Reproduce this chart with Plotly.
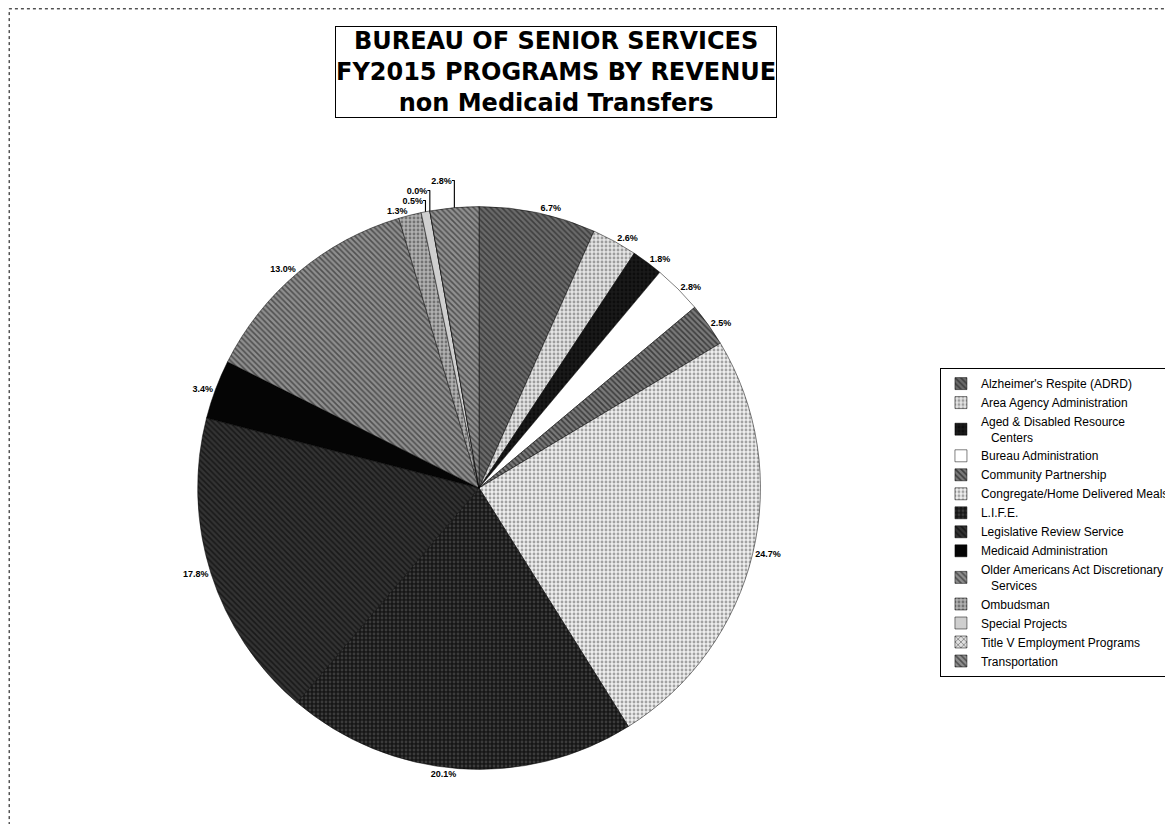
import plotly.graph_objects as go

programs = [
    "Alzheimer's Respite (ADRD)",
    "Area Agency Administration",
    "Aged & Disabled Resource<br>   Centers",
    "Bureau Administration",
    "Community Partnership",
    "Congregate/Home Delivered Meals",
    "L.I.F.E.",
    "Legislative Review Service",
    "Medicaid Administration",
    "Older Americans Act Discretionary<br>   Services",
    "Ombudsman",
    "Special Projects",
    "Title V Employment Programs",
    "Transportation",
]
revenue_pct = [6.7, 2.6, 1.8, 2.8, 2.5, 24.7, 20.1, 17.8, 3.4, 13.0, 1.3, 0.5, 0.0, 2.8]

fill_colors = ["#6a6a6a", "#e4e4e4", "#1a1a1a", "#ffffff", "#7a7a7a", "#eeeeee", "#161616",
               "#333333", "#050505", "#8e8e8e", "#b0b0b0", "#cfcfcf", "#e0e0e0", "#909090"]
pattern_shapes = ["\\", ".", ".", "", "\\", ".", ".", "\\", "", "\\", ".", "", "x", "\\"]
fg_colors = ["#111111", "#555555", "#000000", "#000000", "#000000", "#555555", "#606060",
             "#000000", "#000000", "#111111", "#333333", "#000000", "#333333", "#111111"]

fig = go.Figure()
fig.add_trace(go.Pie(
    labels=programs,
    values=revenue_pct,
    sort=False,
    direction="clockwise",
    rotation=0,
    textinfo="percent",
    texttemplate="%{value:.1f}%",
    textposition="outside",
    textfont=dict(family="Liberation Sans, Arial", size=9, color="#000000", weight="bold"),
    marker=dict(
        colors=fill_colors,
        line=dict(color="#000000", width=0.5),
        pattern=dict(shape=pattern_shapes, fgcolor=fg_colors, size=4, solidity=0.4,
                     fillmode="overlay"),
    ),
    domain=dict(x=[0.1563, 0.6469], y=[0.076, 0.759]),
    showlegend=True,
))

fig.add_annotation(
    text="<b>BUREAU OF SENIOR SERVICES<br>FY2015 PROGRAMS BY REVENUE<br>non Medicaid Transfers</b>",
    x=548, y=64, xref="x", yref="y",
    showarrow=False,
    font=dict(family="DejaVu Sans, Arial", size=24, color="#000000"),
    bordercolor="#000000", borderwidth=1, borderpad=0, bgcolor="#ffffff",
)

# outer chart border
fig.add_shape(type="rect", xref="paper", yref="paper", x0=0.001, y0=0.004, x1=1.2, y1=0.999,
              line=dict(color="#000000", width=1, dash="dot"))

fig.update_xaxes(visible=False, range=[0, 1173], fixedrange=True)
fig.update_yaxes(visible=False, range=[824, 0], fixedrange=True)

fig.update_layout(
    width=1173, height=824,
    margin=dict(l=0, r=0, t=0, b=0),
    paper_bgcolor="#ffffff", plot_bgcolor="#ffffff",
    font=dict(family="Liberation Sans, Arial", color="#000000"),
    legend=dict(
        x=0.7945, y=0.563, xanchor="left", yanchor="top",
        font=dict(family="Liberation Sans, Arial", size=12, color="#000000"),
        bordercolor="#000000", borderwidth=1, bgcolor="#ffffff",
        tracegroupgap=0, itemwidth=30,
    ),
)

fig.write_html("out.html")
